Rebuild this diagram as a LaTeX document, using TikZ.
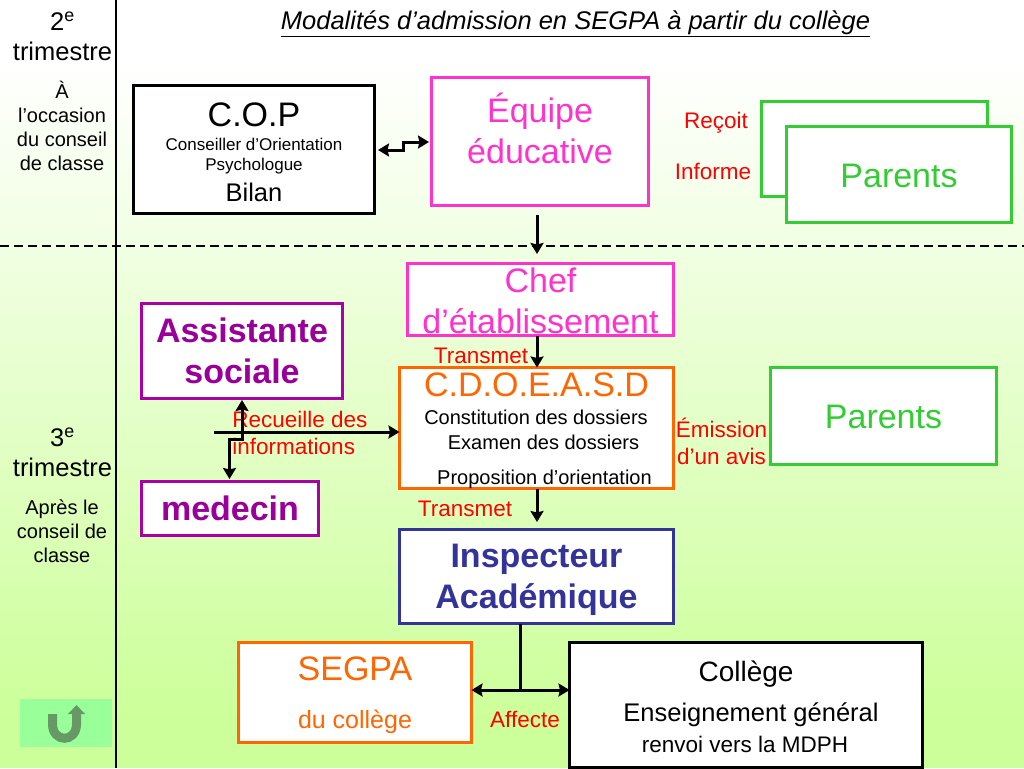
\documentclass[tikz,border=0pt]{standalone}
\usepackage{fontspec}
\setmainfont{Liberation Sans}
\usepackage{xcolor}
\usetikzlibrary{arrows.meta,calc,positioning}
\definecolor{fondvert}{HTML}{CCFF99}
\definecolor{rose}{HTML}{FF33CC}
\definecolor{vertp}{HTML}{33CC33}
\definecolor{violet1}{HTML}{AA00AA}
\definecolor{violet2}{HTML}{990099}
\definecolor{orange1}{HTML}{FF6600}
\definecolor{bleu1}{HTML}{333399}
\definecolor{retour}{HTML}{99FF99}
\definecolor{retourf}{HTML}{669966}
\tikzset{
  boite/.style={draw,fill=white,line width=3pt,inner sep=0pt,outer sep=0pt},
  txt/.style={inner sep=0pt,outer sep=0pt,align=center},
  rouge/.style={txt,text=red,font=\fontsize{22.5}{27}\selectfont},
  gauche/.style={txt,font=\fontsize{20}{24}\selectfont},
  tri/.style={txt,font=\fontsize{25.5}{30}\selectfont},
  grand/.style={txt,font=\fontsize{34}{41.5}\selectfont},
  gras/.style={txt,font=\bfseries\fontsize{34}{41.5}\selectfont},
  moyen/.style={txt,font=\fontsize{20}{24}\selectfont},
  fleche/.style={line width=3pt,-{Stealth[length=11pt,width=13pt,inset=1.5pt]}},
  dfleche/.style={line width=3pt,{Stealth[length=11pt,width=13pt,inset=1.5pt]}-{Stealth[length=11pt,width=13pt,inset=1.5pt]}},
}
\begin{document}
\begin{tikzpicture}[x=1pt,y=-1pt]
\useasboundingbox (0,0) rectangle (1024,768);
\shade[top color=white,bottom color=fondvert] (0,60) rectangle (1024,720);
\fill[fondvert] (0,720) rectangle (1024,768);
% colonne de gauche
\draw[line width=1.5pt] (116,0) -- (116,768);
\draw[line width=2pt,dash pattern=on 9pt off 5pt] (0,246) -- (1024,246);
\node[tri] (tri2) at (62.5,36) {2\textsuperscript{e}\\trimestre};
\node[gauche] (occasion) at (62,126) {À\\l’occasion\\du conseil\\de classe};
\node[tri] (tri3) at (62.5,452.5) {3\textsuperscript{e}\\trimestre};
\node[gauche] (apres) at (62,531) {Après le\\conseil de\\classe};
\node[txt,font=\fontsize{25.5}{30}\selectfont] (titre) at (575.5,24) {\underline{\textit{Modalités d’admission en SEGPA à partir du collège}}};
% boites
\node[boite,minimum width=241pt,minimum height=128pt] (cop) at (254,149.5) {};
\node[grand] (copt) at (254,115) {C.O.P};
\node[txt,font=\fontsize{17}{20.5}\selectfont] (copd) at (254,156) {Conseiller d’Orientation\\Psychologue};
\node[txt,font=\fontsize{25.5}{30}\selectfont] (bilan) at (254,192) {Bilan};
\node[boite,draw=rose,minimum width=217pt,minimum height=128pt] (equipe) at (540,141.5) {};
\node[grand,text=rose] (equipet) at (540,128.5) {Équipe\\éducative};
\node[boite,draw=vertp,minimum width=226pt,minimum height=95pt] (parentsA) at (874.5,149) {};
\node[boite,draw=vertp,minimum width=225pt,minimum height=96pt] (parentsB) at (899,174.5) {};
\node[grand,text=vertp] (parentsBt) at (899,176) {Parents};
\node[rouge] (recoit) at (716,123) {Reçoit};
\node[rouge] (informe) at (713,171) {Informe};
\node[boite,draw=rose,minimum width=266pt,minimum height=72pt] (chef) at (540.5,299.5) {};
\node[grand,text=rose] (cheft) at (540.5,301) {Chef\\d’établissement};
\node[boite,draw=violet1,text=violet2,minimum width=201pt,minimum height=95pt,align=center,font=\bfseries\fontsize{34}{41}\selectfont] (assistante) at (242,351) {Assistante\\sociale};
\node[boite,draw=violet1,text=violet2,minimum width=177pt,minimum height=54pt,font=\bfseries\fontsize{34}{38}\selectfont] (medecin) at (230,508.5) {medecin};
\node[boite,draw=orange1,minimum width=274pt,minimum height=121pt] (cdo) at (536.5,428) {};
\node[grand,text=orange1] (cdot) at (536.5,385) {C.D.O.E.A.S.D};
\node[moyen] (constit) at (536,417) {Constitution des dossiers};
\node[moyen] (examen) at (543.5,442) {Examen des dossiers};
\node[moyen] (propo) at (544.5,479) {Proposition d’orientation};
\node[boite,draw=vertp,minimum width=226pt,minimum height=97pt] (parentsC) at (883.5,416) {};
\node[grand,text=vertp] (parentsCt) at (883.5,417) {Parents};
\node[boite,draw=bleu1,minimum width=274pt,minimum height=94pt] (inspecteur) at (536.5,576.5) {};
\node[gras,text=bleu1] (inspecteurt) at (536.5,580) {Inspecteur\\Académique};
\node[boite,draw=orange1,minimum width=233pt,minimum height=100pt] (segpa) at (355,692.5) {};
\node[grand,text=orange1] (segpat) at (355,669) {SEGPA};
\node[txt,text=orange1,font=\fontsize{25}{30}\selectfont] (segpad) at (355,722) {du collège};
\node[boite,minimum width=353pt,minimum height=125pt] (college) at (746,705) {};
\node[txt,font=\fontsize{28}{32}\selectfont] (collt) at (746,674) {Collège};
\node[txt,font=\fontsize{25.5}{30}\selectfont] (enseign) at (751,715) {Enseignement général};
\node[txt,font=\fontsize{22.5}{26}\selectfont] (renvoi) at (745,744) {renvoi vers la MDPH};
% etiquettes
\node[rouge] (transmet1) at (481,356) {Transmet};
\node[rouge] (transmet2) at (465,509) {Transmet};
\node[rouge,align=left] (recueille) at (300,433) {Recueille des\\informations};
\node[rouge] (emission) at (721.5,441) {Émission\\d’un avis};
\node[rouge] (affecte) at (525,719) {Affecte};
% fleches
\coordinate (eqbas) at (537,215);
\coordinate (chefhaut) at (537,254);
\draw[fleche] (eqbas) -- (chefhaut);
\draw[fleche] (chef.south -| eqbas) -- (cdo.north -| eqbas);
\coordinate (insphaut) at (537,522);
\draw[fleche] (cdo.south -| eqbas) -- (insphaut);
\coordinate (copa) at (403,150);
\coordinate (copb) at (403,142);
\draw[dfleche] (378,150) -- (copa) -- (copb) -- (429,142);
\coordinate (recd) at (214,432);
\draw[fleche] (recd) -- (cdo.west |- recd);
\coordinate (medh) at (229.5,439);
\coordinate (assb) at (242,439);
\draw[dfleche] (229.5,479) -- (medh) -- (assb) -- (242,400);
\coordinate (affh) at (520.5,690);
\draw[line width=3pt] (inspecteur.south -| affh) -- (affh);
\draw[dfleche] (segpa.east |- affh) -- (college.west |- affh);
% bouton retour
\node[fill=retour,inner sep=0pt,minimum width=92pt,minimum height=48pt] (bouton) at (66,723) {};
\draw[retourf,line width=9pt] (52.5,714) -- (52.5,724) .. controls (52.5,743) and (76.5,743) .. (76.5,724) -- (76.5,710);
\fill[retourf] (76.5,705) -- (85,714) -- (68,714) -- cycle;
\end{tikzpicture}
\end{document}
